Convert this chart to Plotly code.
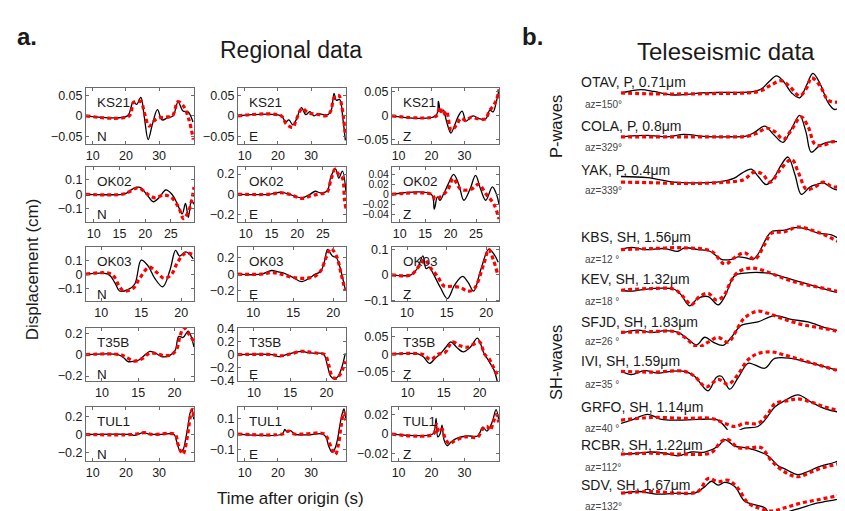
import plotly.graph_objects as go

W, H = 845, 511

# ---------------- Regional data: time after origin (s) and displacement (cm) ----------------
STATIONS = ["KS21", "OK02", "OK03", "T35B", "TUL1"]
COMPONENTS = ["N", "E", "Z"]

KS21_N_t_obs = [8, 20.5, 21.5, 22.2, 23.2, 24.5, 25.5, 26.7, 28, 29.5, 30.9, 32.5, 34.2, 35.7, 37.2, 38.7, 40.2]
KS21_N_obs = [0, 0, 0.02, 0.035, 0.028, 0.045, 0.0, -0.058, -0.02, 0.015, -0.01, -0.005, 0.0, 0.034, 0.012, 0.01, -0.015]
KS21_N_t_syn = [8, 21, 22.3, 24.5, 25.5, 27, 28.5, 30, 32, 34, 35.7, 37.5, 39, 40.3]
KS21_N_syn = [0, 0, 0.033, 0.035, 0.01, -0.025, -0.012, -0.005, -0.003, 0.0, 0.035, 0.022, -0.01, -0.058]

KS21_E_t_obs = [8, 21, 22.3, 23.3, 24.5, 25.5, 27.1, 28.4, 29.6, 30.9, 32, 33.6, 35.1, 36.1, 36.9, 37.6, 38.6, 39.6, 40.3]
KS21_E_obs = [0, 0, -0.015, -0.01, -0.022, -0.01, 0.02, 0.003, 0.01, 0.0, 0.005, 0.003, 0.003, 0.015, 0.055, 0.038, 0.04, -0.01, -0.06]
KS21_E_t_syn = [8, 21, 22.5, 24.5, 25.5, 27.3, 29, 30.5, 32.5, 34.5, 35.8, 37, 38.3, 39.3, 40.3]
KS21_E_syn = [0, 0, -0.02, -0.028, -0.01, 0.018, 0.008, 0.005, 0.003, 0.0, 0.01, 0.045, 0.05, 0.02, -0.045]

KS21_Z_t_obs = [8, 21.3, 22.1, 22.8, 23.6, 24.5, 25.9, 27, 28.2, 29.3, 30.5, 31.7, 32.8, 34.4, 36.5, 37.7, 38.7, 39.7, 40.5]
KS21_Z_obs = [0, 0, 0.03, 0.008, 0.012, -0.01, -0.036, -0.02, 0.0, 0.01, -0.011, -0.004, 0.0, -0.006, -0.006, 0.012, 0.008, 0.03, 0.055]
KS21_Z_t_syn = [8, 21.5, 22.5, 23.5, 24.5, 26, 27.5, 29, 30.5, 32, 34, 36.5, 37.5, 38.7, 39.8, 40.5]
KS21_Z_syn = [0, 0, 0.018, 0.002, 0.01, -0.03, -0.02, -0.005, -0.01, -0.003, -0.006, -0.006, 0.01, 0.02, 0.035, 0.055]

OK02_N_t_obs = [8.5, 15.5, 16.5, 17.7, 19, 20.3, 21.6, 22.8, 24, 25.2, 26.3, 27.2, 27.85, 28.4, 29, 29.5]
OK02_N_obs = [0, 0, 0.01, 0.04, 0.048, 0.0, -0.052, -0.02, 0.03, 0.0, -0.07, -0.136, -0.064, -0.16, -0.04, -0.07]
OK02_N_t_syn = [8.5, 15.5, 17, 18.7, 20.5, 22, 23.5, 25, 26.5, 27.5, 28.4, 29, 29.5]
OK02_N_syn = [0, 0, 0.02, 0.045, 0.0, -0.025, -0.005, -0.02, -0.09, -0.17, -0.12, -0.05, 0.05]

OK02_E_t_obs = [8.5, 14.5, 16.9, 18.5, 20.9, 22.5, 23.5, 24.5, 25.8, 26.6, 27.5, 28.1, 28.8, 29.5]
OK02_E_obs = [0, 0, 0.02, 0.0, -0.035, 0.0, 0.03, 0.015, 0.03, 0.18, 0.25, 0.16, 0.23, 0.02]
OK02_E_t_syn = [8.5, 14.5, 17, 18.5, 21, 23, 24.5, 25.8, 26.6, 27.4, 28, 28.8, 29.2, 29.5]
OK02_E_syn = [0, 0, 0.015, 0.0, -0.04, -0.01, 0.005, 0.02, 0.15, 0.25, 0.2, 0.16, -0.05, -0.14]

OK02_Z_t_obs = [8.5, 16.2, 16.8, 17.4, 17.9, 18.6, 19.5, 20.6, 21.6, 22.6, 23.8, 24.9, 25.9, 26.9, 28.2, 29, 29.5]
OK02_Z_obs = [0, 0, -0.03, -0.005, -0.012, 0.0, 0.02, 0.04, 0.02, -0.012, 0.01, 0.038, 0.01, -0.012, 0.015, 0.0, -0.02]
OK02_Z_t_syn = [8.5, 16.3, 17, 18, 19.5, 20.5, 22, 24, 25.5, 27, 28.5, 29.5]
OK02_Z_syn = [0, 0, -0.01, -0.005, 0.01, 0.032, 0.01, 0.01, 0.02, 0.0, -0.02, -0.05]

OK03_N_t_obs = [8.1, 10.85, 11.7, 12.3, 13.35, 14.2, 15.0, 15.85, 16.7, 17.7, 18.6, 19.3, 19.8, 20.6, 21.5]
OK03_N_obs = [0, 0, -0.06, -0.12, -0.11, -0.07, 0.1, 0.06, -0.03, -0.09, 0.03, 0.17, 0.13, 0.16, 0.11]
OK03_N_t_syn = [8.1, 11.3, 12.2, 12.8, 14, 14.8, 16, 17, 17.9, 18.8, 19.5, 20.5, 21.5]
OK03_N_syn = [0, 0, -0.08, -0.12, -0.1, -0.03, 0.05, 0.01, -0.03, 0.0, 0.08, 0.15, 0.14]

OK03_E_t_obs = [8.1, 11.0, 12.3, 13.0, 13.9, 15, 16.0, 17, 17.7, 18.4, 18.9, 19.3, 19.9, 20.4, 20.8, 21.5]
OK03_E_obs = [0, 0, 0.045, 0.03, 0.01, -0.04, -0.09, -0.05, 0.0, 0.03, 0.15, 0.3, 0.22, 0.2, 0.1, -0.18]
OK03_E_t_syn = [8.1, 11.0, 12.3, 13.5, 15, 16.5, 17.8, 18.5, 19.1, 19.7, 20.4, 21.0, 21.5]
OK03_E_syn = [0, 0, 0.02, 0.0, -0.04, -0.05, -0.02, 0.05, 0.2, 0.31, 0.22, 0.0, -0.2]

OK03_Z_t_obs = [8.1, 10.5, 11.3, 12.0, 12.4, 12.8, 13.3, 14.2, 15.1, 16, 17, 17.7, 18.4, 19.3, 20.3, 21.0, 21.5]
OK03_Z_obs = [0, 0, 0.025, 0.075, 0.025, 0.03, 0.005, -0.05, -0.094, -0.04, -0.006, -0.03, -0.064, 0.02, 0.1, 0.08, 0.05]
OK03_Z_t_syn = [8.1, 10.5, 11.6, 12.2, 13.0, 13.85, 14.7, 15.7, 16.8, 17.6, 18.4, 19.7, 20.3, 20.9, 21.4]
OK03_Z_syn = [0, 0, 0.038, 0.06, 0.026, -0.006, -0.045, -0.045, -0.051, -0.064, -0.058, 0.045, 0.1, 0.058, 0.006]

T35B_N_t_obs = [7.8, 12.2, 13.0, 13.6, 14.5, 15.1, 15.8, 16.6, 17.2, 18.3, 19.3, 20.1, 20.6, 21.2, 21.9, 22.3, 22.7]
T35B_N_obs = [0, 0, -0.03, -0.065, -0.06, -0.05, -0.01, 0.03, 0.02, -0.02, -0.01, 0.04, 0.17, 0.16, 0.22, 0.17, 0.07]
T35B_N_t_syn = [7.8, 12.5, 13.5, 14.4, 15.5, 16.6, 17.5, 18.6, 19.6, 20.3, 20.8, 21.3, 21.9, 22.7]
T35B_N_syn = [0, 0, -0.03, -0.06, -0.04, 0.015, 0.01, -0.01, 0.0, 0.05, 0.18, 0.25, 0.2, 0.12]

T35B_E_t_obs = [7.8, 12.5, 13.4, 14.5, 15.5, 16.6, 17.5, 18.4, 19.6, 20.1, 20.6, 21.1, 21.6, 22.1, 22.6]
T35B_E_obs = [0, 0, -0.03, 0.0, 0.03, 0.05, 0.03, 0.02, 0.01, -0.15, -0.33, -0.37, -0.33, -0.2, 0.02]
T35B_E_t_syn = [7.8, 12.5, 13.6, 15, 16.6, 17.5, 18.8, 19.8, 20.3, 20.8, 21.3, 21.9, 22.6]
T35B_E_syn = [0, 0, -0.02, 0.01, 0.05, 0.04, 0.02, 0.0, -0.15, -0.33, -0.36, -0.3, -0.1]

T35B_Z_t_obs = [7.8, 11.6, 12.3, 13.0, 13.8, 14.6, 15.3, 16.0, 16.8, 17.7, 18.7, 19.7, 20.6, 21.3, 22.0, 22.5]
T35B_Z_obs = [0, 0, -0.01, -0.026, -0.012, 0.003, 0.02, 0.035, 0.02, 0.007, 0.02, 0.046, 0.003, -0.02, -0.045, -0.08]
T35B_Z_t_syn = [7.8, 12, 13.2, 14.2, 15.2, 16.2, 17.2, 18.3, 19.3, 20, 20.7, 21.4, 22.0, 22.5]
T35B_Z_syn = [0, 0, -0.015, 0.0, 0.005, 0.035, 0.025, 0.02, 0.03, 0.035, 0.0, -0.015, -0.04, -0.06]

TUL1_N_t_obs = [8, 21.5, 22.5, 23.5, 25.3, 27, 30, 34.5, 35.3, 36.4, 37.2, 38.0, 38.8, 39.4, 39.9, 40.4]
TUL1_N_obs = [0, 0, -0.01, 0.0, 0.02, 0.005, 0.0, 0.0, -0.08, -0.19, -0.17, -0.05, 0.12, 0.25, 0.28, 0.17]
TUL1_N_t_syn = [8, 22, 25.5, 28, 34.8, 35.6, 36.4, 37.2, 37.8, 38.6, 39.4, 40, 40.4]
TUL1_N_syn = [0, 0, 0.02, 0.0, 0.0, -0.1, -0.18, -0.22, -0.16, 0.0, 0.2, 0.28, 0.2]

TUL1_E_t_obs = [8, 21.3, 22.1, 22.8, 23.8, 25, 26.5, 29, 33.5, 34.5, 35.3, 36.3, 37, 37.8, 38.6, 39.3, 39.9, 40.4]
TUL1_E_obs = [0, 0, 0.03, 0.012, 0.022, 0.0, -0.005, -0.005, 0.0, -0.02, -0.08, -0.12, -0.105, -0.05, 0.05, 0.13, 0.165, 0.1]
TUL1_E_t_syn = [8, 21.5, 23.3, 25, 28, 34, 35.5, 36.5, 37.3, 38.2, 39, 39.8, 40.4]
TUL1_E_syn = [0, 0, 0.02, 0.0, 0.0, 0.0, -0.06, -0.11, -0.135, -0.07, 0.05, 0.14, 0.09]

TUL1_Z_t_obs = [8, 20.4, 21.0, 21.4, 21.9, 22.6, 23.2, 23.8, 24.8, 26, 28, 31, 34, 35.6, 36.8, 37.6, 38.6, 39.6, 40.4]
TUL1_Z_obs = [0, 0, 0.005, 0.016, -0.003, 0.0, 0.009, -0.006, -0.012, -0.008, -0.004, -0.002, -0.002, 0.007, 0.003, 0.006, 0.014, 0.025, 0.015]
TUL1_Z_t_syn = [8, 20.6, 21.5, 22.2, 23.2, 24.2, 25.5, 27, 30, 34, 35.5, 36.8, 37.8, 38.8, 39.7, 40.4]
TUL1_Z_syn = [0, 0, 0.01, 0.002, 0.005, -0.005, -0.01, -0.007, -0.003, -0.003, 0.005, 0.008, 0.004, 0.012, 0.02, 0.012]

# axis limits / tick labels of the regional panels
X_RANGE = {"KS21": [8, 40.5], "OK02": [8.5, 29.5], "OK03": [8.1, 21.6], "T35B": [7.8, 22.7], "TUL1": [8, 40.5]}
X_TICKS = {"KS21": [10, 20, 30], "OK02": [10, 15, 20, 25], "OK03": [10, 15, 20], "T35B": [10, 15, 20], "TUL1": [10, 20, 30]}
Y_RANGE = {
    "KS21": [[-0.068, 0.068], [-0.068, 0.068], [-0.058, 0.058]],
    "OK02": [[-0.19, 0.19], [-0.27, 0.27], [-0.055, 0.055]],
    "OK03": [[-0.195, 0.195], [-0.33, 0.33], [-0.105, 0.11]],
    "T35B": [[-0.25, 0.25], [-0.405, 0.405], [-0.077, 0.075]],
    "TUL1": [[-0.3, 0.31], [-0.18, 0.18], [-0.028, 0.028]],
}
Y_TICKS = {
    "KS21": [[-0.05, 0, 0.05], [-0.05, 0, 0.05], [-0.05, 0, 0.05]],
    "OK02": [[-0.1, 0, 0.1], [-0.2, 0, 0.2], [-0.04, -0.02, 0, 0.02, 0.04]],
    "OK03": [[-0.1, 0, 0.1], [-0.2, 0, 0.2], [-0.1, 0, 0.1]],
    "T35B": [[-0.2, 0, 0.2], [-0.4, -0.2, 0, 0.2, 0.4], [-0.05, 0, 0.05]],
    "TUL1": [[-0.2, 0, 0.2], [-0.1, 0, 0.1], [-0.02, 0, 0.02]],
}

# ---------------- Teleseismic data (normalised amplitude vs time, s) ----------------
TELE_LABELS = ["OTAV, P, 0.71\u03bcm", "COLA, P, 0.8\u03bcm", "YAK, P, 0.4\u03bcm",
               "KBS, SH, 1.56\u03bcm", "KEV, SH, 1.32\u03bcm", "SFJD, SH, 1.83\u03bcm",
               "IVI, SH, 1.59\u03bcm", "GRFO, SH, 1.14\u03bcm", "RCBR, SH, 1.22\u03bcm", "SDV, SH, 1.67\u03bcm"]
TELE_AZ = ["az=150\u00b0", "az=329\u00b0", "az=339\u00b0", "az=12 \u00b0", "az=18 \u00b0",
           "az=26 \u00b0", "az=35 \u00b0", "az=40 \u00b0", "az=112\u00b0", "az=132\u00b0"]

OTAV_t_obs = [0, 3, 6.1, 10, 15.2, 20, 24.2, 30, 36, 39.3, 42.3, 44.8, 46.9, 49, 51.5, 53.9, 56, 57.9, 60, 62.5, 64.5, 67, 70]
OTAV_obs = [0, 0.08, 0.14, 0.06, -0.08, -0.06, 0, 0.02, 0.02, 0.04, 0.16, 0.48, 0.7, 0.48, 0, -0.2, 0.32, 0.8, 0.4, -0.4, -0.68, -0.48, -0.24]
OTAV_t_syn = [0, 10, 20, 30, 38, 42, 45, 48.3, 51, 53.9, 56, 57.5, 60, 62.5, 65, 67.5, 70]
OTAV_syn = [0, -0.04, -0.04, -0.02, 0, 0.08, 0.3, 0.5, 0.25, -0.12, 0.2, 0.62, 0.3, -0.3, -0.38, -0.25, -0.22]

COLA_t_obs = [0, 8, 14, 19, 25, 32, 38, 40.5, 43.4, 46, 48.9, 51.5, 53.9, 55.8, 57.4, 60, 62.5, 65.5, 70]
COLA_obs = [0, 0.06, 0.0, 0.1, 0.02, 0.0, 0.04, 0.2, 0.44, 0.1, -0.23, 0.35, 0.88, 0.2, -0.63, -0.35, -0.22, -0.2, -0.28]
COLA_t_syn = [0, 10, 20, 30, 38, 41, 44, 46.5, 49, 51.5, 54.3, 56.5, 58.5, 61, 64, 67, 70]
COLA_syn = [0, 0, 0, 0.0, 0.02, 0.15, 0.35, 0.2, -0.1, 0.3, 0.82, 0.4, -0.3, -0.35, -0.2, -0.22, -0.2]

YAK_t_obs = [0, 8, 16, 24, 30, 34, 36.5, 39.3, 41.5, 43.8, 46, 48.3, 50.4, 52.5, 54.4, 57, 59, 61, 64.5, 67, 70]
YAK_obs = [0.13, 0.08, -0.1, -0.13, -0.08, 0.05, 0.27, 0.43, 0.12, -0.2, 0.05, 0.6, 0.93, 0.2, -0.6, -0.3, -0.2, -0.13, -0.4, -0.42, -0.42]
YAK_t_syn = [0, 8, 16, 24, 32, 37, 40, 42.5, 45, 48, 51.5, 53.5, 56, 58.5, 61, 64, 67, 70]
YAK_syn = [-0.1, -0.12, -0.15, -0.15, -0.1, 0.0, 0.3, 0.25, -0.1, 0.4, 0.83, 0.3, -0.4, -0.3, -0.1, -0.3, -0.25, -0.22]

KBS_t_obs = [0, 3.1, 7.1, 13.2, 17.2, 19.2, 23.2, 26.8, 30.3, 33.3, 35.3, 37.3, 39.8, 41.3, 43.9, 45.4, 49.4, 52.4, 55.4, 59.5, 63.5, 67.5, 70]
KBS_obs = [0, 0.09, 0, 0.04, -0.07, 0.07, 0, -0.07, -0.4, -0.4, -0.3, -0.33, -0.4, -0.2, 0.47, 0.73, 0.8, 0.9, 0.87, 0.67, 0.6, 0.33, 0.2]
KBS_t_syn = [0, 9.2, 19.2, 27.3, 31.3, 34.3, 37.3, 40.3, 43.3, 45.4, 49.4, 53.4, 57.4, 61.5, 65.5, 70]
KBS_syn = [0, 0.04, 0.07, -0.07, -0.6, -0.33, -0.13, -0.4, 0.2, 0.67, 0.73, 0.93, 0.8, 0.6, 0.33, 0.07]

KEV_t_obs = [0, 3.1, 9.2, 16.2, 18.2, 20.7, 23.2, 26.3, 29.3, 31.3, 34.3, 37.3, 44.4, 49.4, 54.4, 59.4, 64.5, 70]
KEV_obs = [-0.03, -0.07, 0.04, 0, -0.23, -0.67, -0.36, -0.29, -0.63, -0.29, 0.57, 0.67, 0.67, 0.5, 0.3, 0.1, -0.1, -0.19]
KEV_t_syn = [0, 9.2, 16.2, 19.2, 21.2, 23.7, 26.3, 28.8, 30.8, 33.3, 35.3, 39.3, 44.4, 49.4, 54.4, 59.4, 64.5, 70]
KEV_syn = [-0.03, 0.04, 0, -0.36, -0.63, -0.29, -0.16, -0.43, -0.29, 0.37, 0.71, 0.88, 0.71, 0.44, 0.24, 0.1, -0.05, -0.23]

SFJD_t_obs = [0, 5.1, 9.2, 13.2, 17.2, 20.2, 22.8, 25.3, 27.8, 30.8, 33.3, 36.3, 41.3, 46.4, 51.4, 56.4, 61.5, 65.5, 70]
SFJD_obs = [-0.03, 0.09, 0, 0.07, 0, -0.27, -0.51, -0.2, -0.4, -0.53, -0.2, 0.29, 0.43, 0.69, 0.53, 0.43, 0.2, 0.07, -0.13]
SFJD_t_syn = [0, 9.2, 16.2, 19.2, 23.2, 26.3, 29.3, 32.3, 35.3, 37.3, 41.3, 45.4, 49.4, 54.4, 59.4, 64.5, 70]
SFJD_syn = [0, 0.03, 0.03, -0.2, -0.6, -0.4, -0.2, -0.4, 0.2, 0.6, 0.87, 0.73, 0.53, 0.33, 0.2, 0.07, -0.2]

IVI_t_obs = [0, 3.1, 7.1, 11.2, 15.2, 19.2, 22.2, 26.3, 28.8, 30.3, 32.8, 35.3, 38.3, 40.3, 43.4, 46.4, 51.4, 55.4, 59.4, 64.5, 70]
IVI_obs = [0, -0.13, 0.03, -0.07, 0, 0, -0.2, -0.8, -0.24, -0.2, -0.73, -0.27, 0.33, 0.27, 0.13, 0.53, 0.53, 0.4, 0.27, 0.07, -0.13]
IVI_t_syn = [0, 9.2, 19.2, 22.2, 25.7, 29.3, 32.3, 35.3, 38.3, 41.3, 45.4, 49.4, 54.4, 59.4, 64.5, 70]
IVI_syn = [0, -0.03, 0, -0.2, -0.64, -0.33, -0.53, -0.13, 0.47, 0.73, 0.8, 0.67, 0.47, 0.27, 0.07, -0.13]

GRFO_t_obs = [0, 3.1, 8.1, 12.2, 17.2, 23.2, 29.3, 31.3, 33.3, 37.3, 41.3, 43.4, 46.4, 49.4, 53.4, 57.4, 61.5, 65.5, 70]
GRFO_obs = [-0.2, -0.07, 0.17, -0.04, -0.07, -0.04, -0.07, -0.33, -0.6, -0.4, -0.33, -0.07, 0.47, 0.73, 0.97, 0.67, 0.4, 0.27, 0.27]
GRFO_t_syn = [0, 9.2, 19.2, 27.3, 31.3, 34.3, 37.3, 41.3, 44.4, 46.4, 50.4, 53.4, 57.4, 61.5, 65.5, 70]
GRFO_syn = [-0.07, 0.04, 0, 0, -0.2, -0.33, -0.2, -0.2, 0.2, 0.6, 0.73, 0.8, 0.67, 0.47, 0.33, 0.2]

RCBR_t_obs = [0, 5.1, 9.2, 13.2, 17.2, 21.2, 25.3, 29.3, 31.3, 34.3, 37.3, 41.3, 44.4, 47.4, 49.4, 53.4, 56.4, 59.4, 64.5, 70]
RCBR_obs = [0, 0.04, 0.09, 0.04, -0.07, 0.09, 0.09, 0.33, 0.6, 0.33, 0.27, 0.13, -0.07, -0.47, -0.6, -0.84, -0.71, -0.53, -0.33, -0.07]
RCBR_t_syn = [0, 9.2, 19.2, 27.3, 30.3, 32.3, 35.3, 39.3, 42.3, 45.4, 49.4, 53.4, 57.4, 61.5, 65.5, 70]
RCBR_syn = [0, 0.04, 0, 0.07, 0.53, 0.6, 0.27, 0.27, 0.27, -0.27, -0.73, -0.93, -0.73, -0.53, -0.4, -0.2]

SDV_t_obs = [0, 5.1, 11.2, 17.2, 22.2, 25.3, 27.3, 29.3, 31.3, 34.3, 37.3, 40.3, 43.4, 45.4, 49.4, 54.4, 59.4, 64.5, 70]
SDV_obs = [0, 0.07, -0.04, 0, 0, 0.27, 0.49, 0.33, 0.44, 0.27, -0.33, -0.47, -0.6, -0.93, -0.8, -0.6, -0.4, -0.27, -0.13]
SDV_t_syn = [0, 9.2, 17.2, 23.2, 26.3, 29.3, 32.3, 35.3, 38.3, 41.3, 45.4, 49.4, 54.4, 59.4, 64.5, 70]
SDV_syn = [0, 0.07, 0, 0.07, 0.6, 0.47, 0.53, 0.2, -0.4, -0.6, -0.73, -0.6, -0.4, -0.27, -0.13, 0]

REGIONAL = {
    ("KS21", "N"): (KS21_N_t_obs, KS21_N_obs, KS21_N_t_syn, KS21_N_syn),
    ("KS21", "E"): (KS21_E_t_obs, KS21_E_obs, KS21_E_t_syn, KS21_E_syn),
    ("KS21", "Z"): (KS21_Z_t_obs, KS21_Z_obs, KS21_Z_t_syn, KS21_Z_syn),
    ("OK02", "N"): (OK02_N_t_obs, OK02_N_obs, OK02_N_t_syn, OK02_N_syn),
    ("OK02", "E"): (OK02_E_t_obs, OK02_E_obs, OK02_E_t_syn, OK02_E_syn),
    ("OK02", "Z"): (OK02_Z_t_obs, OK02_Z_obs, OK02_Z_t_syn, OK02_Z_syn),
    ("OK03", "N"): (OK03_N_t_obs, OK03_N_obs, OK03_N_t_syn, OK03_N_syn),
    ("OK03", "E"): (OK03_E_t_obs, OK03_E_obs, OK03_E_t_syn, OK03_E_syn),
    ("OK03", "Z"): (OK03_Z_t_obs, OK03_Z_obs, OK03_Z_t_syn, OK03_Z_syn),
    ("T35B", "N"): (T35B_N_t_obs, T35B_N_obs, T35B_N_t_syn, T35B_N_syn),
    ("T35B", "E"): (T35B_E_t_obs, T35B_E_obs, T35B_E_t_syn, T35B_E_syn),
    ("T35B", "Z"): (T35B_Z_t_obs, T35B_Z_obs, T35B_Z_t_syn, T35B_Z_syn),
    ("TUL1", "N"): (TUL1_N_t_obs, TUL1_N_obs, TUL1_N_t_syn, TUL1_N_syn),
    ("TUL1", "E"): (TUL1_E_t_obs, TUL1_E_obs, TUL1_E_t_syn, TUL1_E_syn),
    ("TUL1", "Z"): (TUL1_Z_t_obs, TUL1_Z_obs, TUL1_Z_t_syn, TUL1_Z_syn),
}
TELE = [
    (OTAV_t_obs, OTAV_obs, OTAV_t_syn, OTAV_syn),
    (COLA_t_obs, COLA_obs, COLA_t_syn, COLA_syn),
    (YAK_t_obs, YAK_obs, YAK_t_syn, YAK_syn),
    (KBS_t_obs, KBS_obs, KBS_t_syn, KBS_syn),
    (KEV_t_obs, KEV_obs, KEV_t_syn, KEV_syn),
    (SFJD_t_obs, SFJD_obs, SFJD_t_syn, SFJD_syn),
    (IVI_t_obs, IVI_obs, IVI_t_syn, IVI_syn),
    (GRFO_t_obs, GRFO_obs, GRFO_t_syn, GRFO_syn),
    (RCBR_t_obs, RCBR_obs, RCBR_t_syn, RCBR_syn),
    (SDV_t_obs, SDV_obs, SDV_t_syn, SDV_syn),
]

# ---------------- layout (pixel geometry) ----------------
FONT = "Liberation Sans, Arial, Helvetica, sans-serif"
TXT = "#1a1a1a"
COL_PX = [(78, 186), (230, 338), (384, 491)]
ROW_PX = [(76, 133), (157, 213), (239, 295), (322, 377), (403, 459)]
TELE_X0 = 613
TELE_BASE = [81, 126, 170, 241.7, 282.7, 326.7, 366.7, 415, 451.7, 491.7]
TELE_LABEL_Y = [70, 115, 160, 229, 272, 316, 356, 403, 442, 483]
TELE_AZ_Y = [93, 137, 181, 252, 295, 336, 380, 425, 465, 505]
TELE_HALF = 25  # px for amplitude 1


def px_x(p):
    return p / W


def px_y(p):
    return 1 - p / H


OBS_LINE = dict(color="black", width=1.3, shape="spline")
SYN_LINE = dict(color="#ff0000", width=3.2, dash="4px,3px", shape="spline")

fig = go.Figure()
layout = {}
annotations = []
k = 0
for r, st in enumerate(STATIONS):
    for c, comp in enumerate(COMPONENTS):
        k += 1
        t_o, v_o, t_s, v_s = REGIONAL[(st, comp)]
        xa = "x" if k == 1 else f"x{k}"
        ya = "y" if k == 1 else f"y{k}"
        fig.add_trace(go.Scatter(x=t_o, y=v_o, mode="lines", line=OBS_LINE, xaxis=xa, yaxis=ya, hoverinfo="skip"))
        fig.add_trace(go.Scatter(x=t_s, y=v_s, mode="lines", line=SYN_LINE, xaxis=xa, yaxis=ya, hoverinfo="skip"))
        L, R = COL_PX[c]
        T, B = ROW_PX[r]
        yfs = 10.5 if len(Y_TICKS[st][c]) > 3 and st == "OK02" else 12.5
        common = dict(showline=True, mirror="ticks", linecolor="#6b6b6b", linewidth=1,
                      ticks="inside", ticklen=3, tickcolor="#6b6b6b", tickwidth=1,
                      showgrid=False, zeroline=False)
        layout["xaxis" if k == 1 else f"xaxis{k}"] = dict(
            domain=[px_x(L), px_x(R)], range=X_RANGE[st], tickvals=X_TICKS[st],
            anchor=ya, tickfont=dict(family=FONT, size=12.5, color=TXT), **common)
        layout["yaxis" if k == 1 else f"yaxis{k}"] = dict(
            domain=[px_y(B), px_y(T)], range=Y_RANGE[st][c], tickvals=Y_TICKS[st][c],
            anchor=xa, tickfont=dict(family=FONT, size=yfs, color=TXT), **common)
        annotations.append(dict(x=px_x(L + 9), y=px_y(T + 15), xref="paper", yref="paper",
                                text=st, showarrow=False, xanchor="left", yanchor="middle",
                                font=dict(family=FONT, size=13.5, color=TXT)))
        annotations.append(dict(x=px_x(L + 9), y=px_y(B - 7), xref="paper", yref="paper",
                                text=comp, showarrow=False, xanchor="left", yanchor="middle",
                                font=dict(family=FONT, size=13.5, color=TXT)))

for j, (t_o, v_o, t_s, v_s) in enumerate(TELE):
    k += 1
    xa, ya = f"x{k}", f"y{k}"
    fig.add_trace(go.Scatter(x=t_o, y=v_o, mode="lines", line=OBS_LINE, xaxis=xa, yaxis=ya, hoverinfo="skip"))
    fig.add_trace(go.Scatter(x=t_s, y=v_s, mode="lines", line=SYN_LINE, xaxis=xa, yaxis=ya, hoverinfo="skip"))
    b = TELE_BASE[j]
    top_px = b - TELE_HALF
    bot_px = min(b + TELE_HALF, H)
    ylo = -(bot_px - b) / TELE_HALF
    layout[f"xaxis{k}"] = dict(domain=[px_x(TELE_X0), 1], range=[0, 70], visible=False, anchor=ya)
    layout[f"yaxis{k}"] = dict(domain=[px_y(bot_px), px_y(top_px)], range=[ylo, 1], visible=False, anchor=xa)
    annotations.append(dict(x=px_x(571), y=px_y(TELE_LABEL_Y[j]), xref="paper", yref="paper",
                            text=TELE_LABELS[j], showarrow=False, xanchor="left", yanchor="middle",
                            font=dict(family=FONT, size=14, color=TXT)))
    annotations.append(dict(x=px_x(575), y=px_y(TELE_AZ_Y[j]), xref="paper", yref="paper",
                            text=TELE_AZ[j], showarrow=False, xanchor="left", yanchor="middle",
                            font=dict(family=FONT, size=10, color="#444")))


def txt(x, y, s, size, bold=False, angle=0, anchor="center"):
    annotations.append(dict(x=px_x(x), y=px_y(y), xref="paper", yref="paper",
                            text=f"<b>{s}</b>" if bold else s, showarrow=False,
                            xanchor=anchor, yanchor="middle", textangle=angle,
                            font=dict(family=FONT, size=size, color=TXT)))


txt(7, 23, "a.", 24, bold=True, anchor="left")
txt(512, 23, "b.", 24, bold=True, anchor="left")
txt(283, 37, "Regional data", 23)
txt(718, 38, "Teleseismic data", 24)
txt(24, 262, "Displacement (cm)", 17, angle=-90)
txt(282, 497, "Time after origin (s)", 17)
txt(548, 116, "P-waves", 16.5, angle=-90)
txt(548, 358, "SH-waves", 16.5, angle=-90)

fig.update_layout(width=W, height=H, margin=dict(l=0, r=0, t=0, b=0),
                  paper_bgcolor="white", plot_bgcolor="white", showlegend=False,
                  annotations=annotations, **layout)
fig.write_html("out.html")
